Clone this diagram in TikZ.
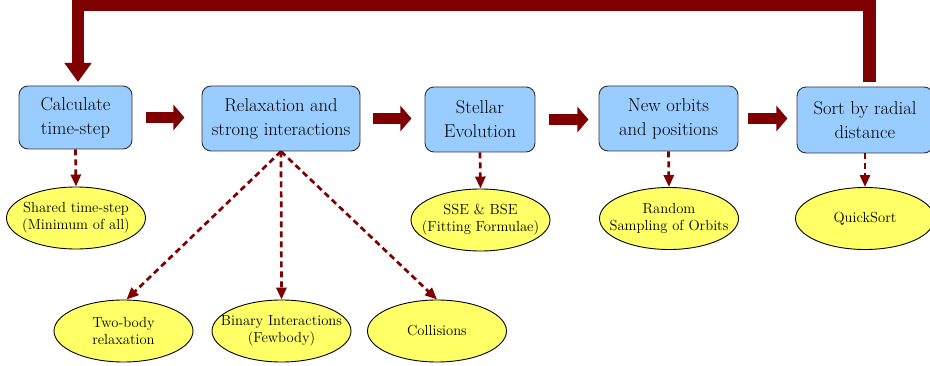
\documentclass[tikz,border=0pt]{standalone}
\usetikzlibrary{shapes.geometric,arrows.meta}
\definecolor{dred}{HTML}{7F0000}
\definecolor{boxblue}{HTML}{99CCFF}
\definecolor{ellyellow}{HTML}{FFFF66}
\tikzset{
  x=1pt, y=-1pt,
  stepbox/.style={draw=black!80, line width=0.9pt, fill=boxblue, rounded corners=9pt,
    align=center, inner sep=0pt, font=\fontsize{18.6}{24}\selectfont},
  ell/.style={draw=black, line width=0.9pt, fill=ellyellow, ellipse, inner sep=0pt,
    minimum width=139pt, minimum height=62pt},
  lbl/.style={align=center, inner sep=0pt, font=\fontsize{14.6}{17}\selectfont},
  fat/.style={draw=dred, line width=11pt, -{Triangle[length=11pt,width=25pt]}},
  dsh/.style={dred, line width=2.7pt, dash pattern=on 6pt off 4pt,
    -{Triangle[length=12pt,width=10pt]}},
}
\begin{document}
\begin{tikzpicture}
\useasboundingbox (0,0) rectangle (930,366);
% boxes
\node[stepbox, minimum width=113pt, minimum height=63pt] (b1) at (75.5,117.5) {Calculate\\time-step};
\node[stepbox, minimum width=158pt, minimum height=65pt] (b2) at (281,118.5) {Relaxation and\\strong interactions};
\node[stepbox, minimum width=110pt, minimum height=65pt] (b3) at (480,119.5) {Stellar\\Evolution};
\node[stepbox, minimum width=139pt, minimum height=65pt] (b4) at (668.5,118.5) {New orbits\\and positions};
\node[stepbox, minimum width=136pt, minimum height=66pt] (b5) at (865,120) {Sort by radial\\distance};
% ellipses
\node[ell, label={[lbl]center:Shared time-step\\(Minimum of all)}] (e1) at (76,218) {};
\node[ell, label={[lbl]center:SSE \& BSE\\(Fitting Formulae)}] (e3) at (480.5,220) {};
\node[ell, label={[lbl]center:Random\\Sampling of Orbits}] (e4) at (669,218.5) {};
\node[ell, label={[lbl]center:QuickSort}] (e5) at (865,218.5) {};
\node[ell, label={[lbl]center:Two-body\\relaxation}] (e21) at (123.5,331) {};
\node[ell, label={[lbl]center:Binary Interactions\\(Fewbody)}] (e22) at (281.5,331) {};
\node[ell, label={[lbl]center:Collisions}] (e23) at (437,331) {};
% fat arrows
\draw[fat] ([xshift=14pt]b1.east) -- ([xshift=52pt]b1.east);
\draw[fat] ([xshift=13pt]b2.east) -- ([xshift=51pt]b2.east);
\draw[fat] ([xshift=14pt]b3.east) -- ([xshift=53pt]b3.east);
\draw[fat] ([xshift=10pt]b4.east) -- ([xshift=49pt]b4.east);
% feedback loop
\coordinate (fbl) at (78,8);
\coordinate (fbe) at (78,82);
\fill[dred] (863,0) rectangle (876,82);
\fill[dred] (72,0) rectangle (876,11.5);
\draw[dred, line width=12.5pt, -{Triangle[length=19pt,width=26pt]}] (fbl) -- (fbe);
% dashed arrows
\draw[dsh] (b1.south) -- (e1.north);
\draw[dsh] (b3.south) -- (e3.north);
\draw[dsh] (b4.south) -- (e4.north);
\draw[dsh] (b5.south) -- (e5.north);
\draw[dsh] (b2.south) -- ([xshift=3pt]e21.north);
\draw[dsh] (b2.south) -- (e22.north);
\draw[dsh] (b2.south) -- (e23.north);
\end{tikzpicture}
\end{document}
